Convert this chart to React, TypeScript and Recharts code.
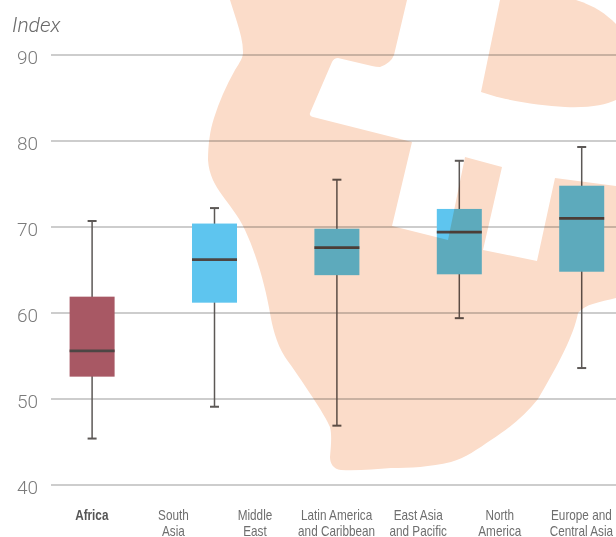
import { Bar, CartesianGrid, ComposedChart, XAxis, YAxis } from "recharts";

// x axis labels, one slot each
const axisLabels = [
  ["Africa"],
  ["South", "Asia"],
  ["Middle", "East"],
  ["Latin America", "and Caribbean"],
  ["East Asia", "and Pacific"],
  ["North", "America"],
  ["Europe and", "Central Asia"],
];
const labelSlots = [0, 1, 2, 3, 4, 5, 6];
const yTicks = [40, 50, 60, 70, 80, 90];

// the five boxes sit every 1.5 label slots in the original
const boxSlots = [0, 1.5, 3, 4.5, 6];
const lows = [45.4, 49.1, 46.9, 59.4, 53.6];
const q1s = [52.6, 61.2, 64.4, 64.5, 64.8];
const medians = [55.6, 66.2, 67.6, 69.4, 71.0];
const q3s = [61.9, 70.4, 69.8, 72.1, 74.8];
const highs = [70.7, 72.2, 75.5, 77.7, 79.3];
const boxColors = ["#a85864", "#5ec5ef", "#5ec5ef", "#5ec5ef", "#5ec5ef"];

const rows = boxSlots.map((slot, i) => ({
  slot,
  span: [lows[i], highs[i]],
  low: lows[i],
  q1: q1s[i],
  median: medians[i],
  q3: q3s[i],
  high: highs[i],
  color: boxColors[i],
}));

const fontFamily = "Roboto, 'Liberation Sans', sans-serif";

// bar spans low..high, everything else is placed from its pixels-per-unit
function BoxShape(props: any) {
  const { x, y, width, height, payload } = props;
  const perUnit = height / (payload.high - payload.low);
  const toY = (v: number) => y + (payload.high - v) * perUnit;
  const cx = x + width / 2;
  const whisker = "#5c5856";
  return (
    <g>
      <line x1={cx} x2={cx} y1={toY(payload.high)} y2={toY(payload.low)} stroke={whisker} strokeWidth={1.5} />
      <line x1={cx - 4.5} x2={cx + 4.5} y1={toY(payload.high)} y2={toY(payload.high)} stroke={whisker} strokeWidth={2} />
      <line x1={cx - 4.5} x2={cx + 4.5} y1={toY(payload.low)} y2={toY(payload.low)} stroke={whisker} strokeWidth={2} />
      <rect x={x} y={toY(payload.q3)} width={width} height={toY(payload.q1) - toY(payload.q3)} fill={payload.color} />
      <line x1={x} x2={x + width} y1={toY(payload.median)} y2={toY(payload.median)} stroke="#4d4644" strokeWidth={2.8} />
    </g>
  );
}

// no narrow face is installed, so the labels are squeezed horizontally
function RegionTick({ x, y, payload }: any) {
  const lines = axisLabels[payload.value];
  const bold = payload.value === 0;
  return (
    <text
      transform={`translate(${x} ${y}) scale(0.84 1)`}
      textAnchor="middle"
      fontFamily="'Liberation Sans', sans-serif"
      fontSize={14}
      fontWeight={bold ? 700 : 400}
      fill={bold ? "#555" : "#6e6e6e"}
    >
      {lines.map((line, i) => (
        <tspan key={line} x={0} y={i * 16}>
          {line}
        </tspan>
      ))}
    </text>
  );
}

// decorative map behind the data, multiplied over the whole chart
function MapOverlay() {
  const body =
    "M230,0 L407,0 L394,55 Q391,63 380,67 Q376,67 372,66 L338,58 Q334,58 332,62 L310,113 Q309,116 313,117 L412,142 L392,226 L448,240 L465,157 L502,167 L483,250 L537,261 L555,178 L616,186 L616,298 " +
    "C600,302 585,304 578,313 C574,335 558,365 538,399 C525,415 510,428 491,440 C478,449 465,458 451,462 C430,467 410,468 391,468 C375,469 358,471 341,470 C333,469 330,463 330,457 C331,445 332,435 330,427 C326,416 300,378 285,357 C276,343 272,325 270,313 C266,290 258,258 245,230 C238,215 229,205 222,195 C215,185 209,175 208,160 C208,145 210,130 214,118 C219,102 226,86 235,70 C240,62 243,58 243,52 C243,42 240,32 237,22 Z";
  const blob = "M500,0 L576,0 C595,6 606,14 616,24 L616,100 C605,105 590,108 565,107 C540,105 510,102 481,92 Z";
  return (
    <svg width={616} height={537} style={{ position: "absolute", left: 0, top: 0, mixBlendMode: "multiply", pointerEvents: "none" }}>
      <path d={body} fill="#fbdcc9" />
      <path d={blob} fill="#fbdcc9" />
    </svg>
  );
}

export default function App() {
  return (
    <div style={{ position: "absolute", left: 0, top: 0, width: 616, height: 537, background: "#fff", overflow: "hidden" }}>
      <ComposedChart width={616} height={537} data={rows} margin={{ top: 55, right: 0, bottom: 0, left: 0 }}>
        <CartesianGrid vertical={false} stroke="#bdbdbd" strokeWidth={1.3} />
        <XAxis
          dataKey="slot"
          type="number"
          domain={[-0.5, 6.424]}
          ticks={labelSlots}
          interval={0}
          allowDataOverflow
          axisLine={false}
          tickLine={false}
          tickSize={0}
          tickMargin={0}
          height={52}
          tick={(p: any) => <RegionTick x={p.x} y={520} payload={p.payload} />}
        />
        <YAxis
          domain={[40, 90]}
          ticks={yTicks}
          interval={0}
          width={51}
          axisLine={false}
          tickLine={false}
          tickSize={0}
          tickMargin={13}
          tick={{ fontSize: 19, fill: "#7b7b7b", fontFamily, fontWeight: 300, dy: 2 }}
        />
        <Bar dataKey="span" barSize={45} shape={<BoxShape />} isAnimationActive={false} />
        <text x={12} y={32} fontFamily={fontFamily} fontSize={21} fontStyle="italic" fontWeight={300} fill="#6a6a6a">
          Index
        </text>
      </ComposedChart>
      <MapOverlay />
    </div>
  );
}
